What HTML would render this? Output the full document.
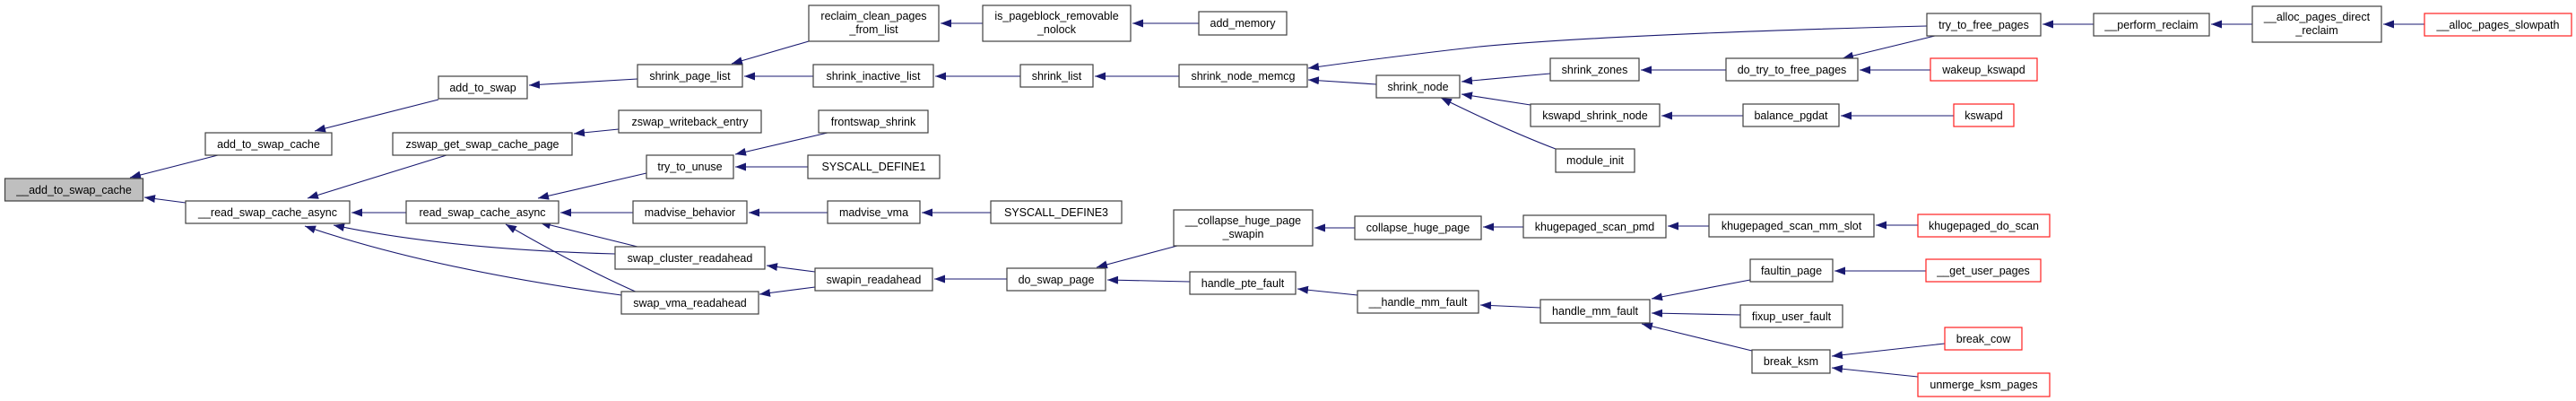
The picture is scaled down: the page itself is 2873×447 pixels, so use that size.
<!DOCTYPE html>
<html><head><meta charset="utf-8"><style>
html,body{margin:0;padding:0;background:#fff;width:2873px;height:447px;overflow:hidden}
svg{display:block}
text{font-family:"Liberation Sans",sans-serif;font-size:12.5px;fill:#000;text-anchor:middle}
rect{fill:#fff;stroke:#404040;stroke-width:1.2}
rect.r{stroke:#ff2020}
rect.g{fill:#bfbfbf}
path.e{fill:none;stroke:#191970;stroke-width:1.1}
</style></head><body>
<svg width="2873" height="447" viewBox="0 0 2873 447" xmlns="http://www.w3.org/2000/svg">
<defs><marker id="a" markerUnits="userSpaceOnUse" markerWidth="13" markerHeight="10" refX="12" refY="4.5" orient="auto"><path d="M0,0 L12,4.5 L0,9 z" fill="#191970"/></marker></defs>
<g>
<path class="e" marker-end="url(#a)" d="M243,173 L145,198"/>
<path class="e" marker-end="url(#a)" d="M207,226 L161,220"/>
<path class="e" marker-end="url(#a)" d="M489,111 L351,146"/>
<path class="e" marker-end="url(#a)" d="M711,88 L590,95"/>
<path class="e" marker-end="url(#a)" d="M498,173 L343,221"/>
<path class="e" marker-end="url(#a)" d="M453,237 L392,237"/>
<path class="e" marker-end="url(#a)" d="M686,283 Q500,278 372,251"/>
<path class="e" marker-end="url(#a)" d="M693,329 Q480,300 340,252"/>
<path class="e" marker-end="url(#a)" d="M690,144 L640,149"/>
<path class="e" marker-end="url(#a)" d="M721,193 L600,221"/>
<path class="e" marker-end="url(#a)" d="M706,237 L625,237"/>
<path class="e" marker-end="url(#a)" d="M711,275 L602,248"/>
<path class="e" marker-end="url(#a)" d="M720,330 Q650,300 564,250"/>
<path class="e" marker-end="url(#a)" d="M902,46 L816,71"/>
<path class="e" marker-end="url(#a)" d="M907,85 L830,85"/>
<path class="e" marker-end="url(#a)" d="M1096,26 L1049,26"/>
<path class="e" marker-end="url(#a)" d="M1337,26 L1263,26"/>
<path class="e" marker-end="url(#a)" d="M1138,85 L1043,85"/>
<path class="e" marker-end="url(#a)" d="M1315,85 L1221,85"/>
<path class="e" marker-end="url(#a)" d="M923,148 L820,172"/>
<path class="e" marker-end="url(#a)" d="M901,186 L820,186"/>
<path class="e" marker-end="url(#a)" d="M923,237 L835,237"/>
<path class="e" marker-end="url(#a)" d="M1105,237 L1028,237"/>
<path class="e" marker-end="url(#a)" d="M909,303 L855,296"/>
<path class="e" marker-end="url(#a)" d="M909,320 L847,328"/>
<path class="e" marker-end="url(#a)" d="M1123,311 L1042,311"/>
<path class="e" marker-end="url(#a)" d="M1313,274 L1223,298"/>
<path class="e" marker-end="url(#a)" d="M1327,314 L1235,312"/>
<path class="e" marker-end="url(#a)" d="M2149,29 Q1800,38 1650,52 Q1560,62 1459,76"/>
<path class="e" marker-end="url(#a)" d="M1535,94 L1459,89"/>
<path class="e" marker-end="url(#a)" d="M1729,82 L1630,91"/>
<path class="e" marker-end="url(#a)" d="M1707,117 L1630,105"/>
<path class="e" marker-end="url(#a)" d="M1735,166 Q1680,145 1607,109"/>
<path class="e" marker-end="url(#a)" d="M1925,78 L1830,78"/>
<path class="e" marker-end="url(#a)" d="M1944,129 L1853,129"/>
<path class="e" marker-end="url(#a)" d="M2158,40 L2055,65"/>
<path class="e" marker-end="url(#a)" d="M2153,78 L2074,78"/>
<path class="e" marker-end="url(#a)" d="M2179,129 L2053,129"/>
<path class="e" marker-end="url(#a)" d="M1511,254 L1466,254"/>
<path class="e" marker-end="url(#a)" d="M1699,253 L1654,253"/>
<path class="e" marker-end="url(#a)" d="M1906,252 L1860,252"/>
<path class="e" marker-end="url(#a)" d="M2139,251 L2092,251"/>
<path class="e" marker-end="url(#a)" d="M1514,329 L1447,322"/>
<path class="e" marker-end="url(#a)" d="M1718,343 L1651,340"/>
<path class="e" marker-end="url(#a)" d="M1952,312 L1842,333"/>
<path class="e" marker-end="url(#a)" d="M1941,351 L1842,349"/>
<path class="e" marker-end="url(#a)" d="M1954,391 L1831,361"/>
<path class="e" marker-end="url(#a)" d="M2148,302 L2046,302"/>
<path class="e" marker-end="url(#a)" d="M2169,383 L2043,397"/>
<path class="e" marker-end="url(#a)" d="M2139,420 L2043,410"/>
<path class="e" marker-end="url(#a)" d="M2335,27 L2278,27"/>
<path class="e" marker-end="url(#a)" d="M2512,27 L2466,27"/>
<path class="e" marker-end="url(#a)" d="M2704,27 L2658,27"/>
</g>
<g>
<rect class="g" x="5.5" y="199" width="154" height="25"/><text x="82.5" y="216">__add_to_swap_cache</text>
<rect x="229" y="148" width="141" height="25"/><text x="299.5" y="165">add_to_swap_cache</text>
<rect x="489" y="85" width="99" height="25"/><text x="538.5" y="102">add_to_swap</text>
<rect x="438" y="148" width="200" height="25"/><text x="538" y="165">zswap_get_swap_cache_page</text>
<rect x="207" y="224" width="183" height="25"/><text x="298.5" y="241">__read_swap_cache_async</text>
<rect x="453" y="224" width="170" height="25"/><text x="538" y="241">read_swap_cache_async</text>
<rect x="902" y="6" width="145" height="40"/><text x="974.5" y="22">reclaim_clean_pages</text><text x="974.5" y="37">_from_list</text>
<rect x="1096" y="6" width="165" height="40"/><text x="1178.5" y="22">is_pageblock_removable</text><text x="1178.5" y="37">_nolock</text>
<rect x="1337" y="13" width="98" height="26"/><text x="1386" y="30">add_memory</text>
<rect x="711" y="72" width="117" height="25"/><text x="769.5" y="89">shrink_page_list</text>
<rect x="907" y="72" width="134" height="25"/><text x="974" y="89">shrink_inactive_list</text>
<rect x="1138" y="72" width="81" height="25"/><text x="1178.5" y="89">shrink_list</text>
<rect x="1315" y="72" width="143" height="25"/><text x="1386.5" y="89">shrink_node_memcg</text>
<rect x="690" y="123" width="159" height="25"/><text x="769.5" y="140">zswap_writeback_entry</text>
<rect x="913" y="123" width="122" height="25"/><text x="974" y="140">frontswap_shrink</text>
<rect x="721" y="173" width="97" height="26"/><text x="769.5" y="190">try_to_unuse</text>
<rect x="901" y="173" width="147" height="26"/><text x="974.5" y="190">SYSCALL_DEFINE1</text>
<rect x="706" y="224" width="127" height="25"/><text x="769.5" y="241">madvise_behavior</text>
<rect x="923" y="224" width="103" height="25"/><text x="974.5" y="241">madvise_vma</text>
<rect x="1105" y="224" width="146" height="25"/><text x="1178" y="241">SYSCALL_DEFINE3</text>
<rect x="686" y="275" width="167" height="25"/><text x="769.5" y="292">swap_cluster_readahead</text>
<rect x="693" y="325" width="153" height="25"/><text x="769.5" y="342">swap_vma_readahead</text>
<rect x="909" y="299" width="131" height="25"/><text x="974.5" y="316">swapin_readahead</text>
<rect x="1123" y="299" width="110" height="25"/><text x="1178" y="316">do_swap_page</text>
<rect x="1309" y="234" width="155" height="40"/><text x="1386.5" y="250">__collapse_huge_page</text><text x="1386.5" y="265">_swapin</text>
<rect x="1327" y="303" width="118" height="25"/><text x="1386" y="320">handle_pte_fault</text>
<rect x="1535" y="84" width="93" height="25"/><text x="1581.5" y="101">shrink_node</text>
<rect x="1729" y="65" width="99" height="25"/><text x="1778.5" y="82">shrink_zones</text>
<rect x="1707" y="116" width="144" height="25"/><text x="1779" y="133">kswapd_shrink_node</text>
<rect x="1735" y="166" width="88" height="26"/><text x="1779" y="183">module_init</text>
<rect x="1925" y="65" width="147" height="25"/><text x="1998.5" y="82">do_try_to_free_pages</text>
<rect x="1944" y="116" width="107" height="25"/><text x="1997.5" y="133">balance_pgdat</text>
<rect x="1511" y="241" width="141" height="26"/><text x="1581.5" y="258">collapse_huge_page</text>
<rect x="1699" y="240" width="159" height="25"/><text x="1778.5" y="257">khugepaged_scan_pmd</text>
<rect x="1906" y="239" width="184" height="25"/><text x="1998" y="256">khugepaged_scan_mm_slot</text>
<rect x="1514" y="324" width="135" height="25"/><text x="1581.5" y="341">__handle_mm_fault</text>
<rect x="1718" y="334" width="122" height="26"/><text x="1779" y="351">handle_mm_fault</text>
<rect x="1952" y="289" width="92" height="25"/><text x="1998" y="306">faultin_page</text>
<rect x="1941" y="340" width="114" height="25"/><text x="1998" y="357">fixup_user_fault</text>
<rect x="1954" y="390" width="87" height="26"/><text x="1997.5" y="407">break_ksm</text>
<rect x="2149" y="15" width="127" height="25"/><text x="2212.5" y="32">try_to_free_pages</text>
<rect x="2335" y="15" width="129" height="25"/><text x="2399.5" y="32">__perform_reclaim</text>
<rect x="2512" y="7" width="144" height="40"/><text x="2584" y="23">__alloc_pages_direct</text><text x="2584" y="38">_reclaim</text>
<rect class="r" x="2704" y="15" width="164" height="25"/><text x="2786" y="32">__alloc_pages_slowpath</text>
<rect class="r" x="2153" y="65" width="119" height="25"/><text x="2212.5" y="82">wakeup_kswapd</text>
<rect class="r" x="2179" y="116" width="67" height="25"/><text x="2212.5" y="133">kswapd</text>
<rect class="r" x="2139" y="239" width="147" height="25"/><text x="2212.5" y="256">khugepaged_do_scan</text>
<rect class="r" x="2148" y="289" width="128" height="25"/><text x="2212" y="306">__get_user_pages</text>
<rect class="r" x="2169" y="365" width="86" height="25"/><text x="2212" y="382">break_cow</text>
<rect class="r" x="2139" y="416" width="147" height="26"/><text x="2212.5" y="433">unmerge_ksm_pages</text>
</g>
</svg>
</body></html>
